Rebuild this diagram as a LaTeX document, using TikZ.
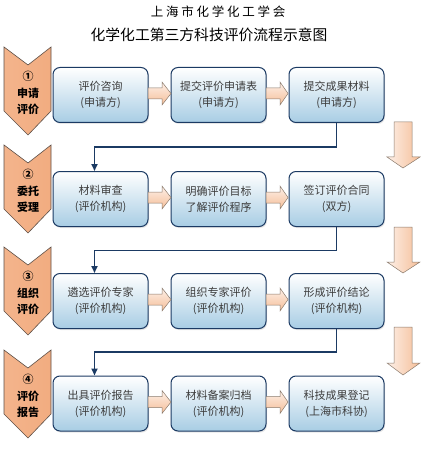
\documentclass[tikz,border=0pt]{standalone}
\usepackage{fontspec}
\setmainfont{Noto Sans CJK SC}
\newfontfamily\titlefont[LetterSpace=22]{Noto Sans CJK SC}
\usetikzlibrary{arrows.meta,shadows}

\newlength{\du}
\setlength{\du}{1pt}

\definecolor{boxline}{HTML}{1B3A63}
\definecolor{boxbot}{HTML}{A8CDE4}
\definecolor{chevline}{HTML}{5E5048}
\definecolor{chevL}{HTML}{F3B48C}
\definecolor{chevM}{HTML}{FCE6D6}
\definecolor{chevR}{HTML}{F2AC80}
\definecolor{arrline}{HTML}{8A7A6C}
\definecolor{arrL}{HTML}{FDF0E8}
\definecolor{arrR}{HTML}{F5BE98}
\definecolor{textgray}{HTML}{3C3C3C}

\tikzset{
  stagebox/.style={draw=boxline, line width=1\du, rounded corners=7\du,
    top color=white, bottom color=boxbot, minimum width=95\du,
    minimum height=55\du, inner sep=0pt, align=center, text=textgray,
    font=\fontsize{11}{16}\selectfont,
    drop shadow={opacity=0.2, shadow xshift=1pt, shadow yshift=-1.5pt}},
  chevron/.style={draw=chevline, line width=0.6\du, left color=chevL, middle color=chevM, right color=chevR},
  chevtext/.style={align=center, text=black, font=\bfseries\fontsize{11}{16.5}\selectfont},
  link/.style={draw=boxline, line width=1.6pt, -{Triangle[width=6pt,length=7pt]}},
  harrow/.style={draw=arrline, line width=0.5\du, top color=arrL, bottom color=arrR},
  varrow/.style={draw=arrline, line width=0.5\du, left color=arrL, right color=arrR},
}

\begin{document}
\begin{tikzpicture}
\pgftransformxscale{1.000000}
\pgftransformyscale{-1.000000}
\useasboundingbox (0\du,0\du) rectangle (439\du,465\du);
% titles
\node[font=\titlefont\fontsize{12.5}{14}\selectfont] (title) at (218\du,12\du){上海市化学化工学会};
\node[font=\fontsize{14.8}{16}\selectfont] (subtitle) at (209\du,35\du){化学化工第三方科技评价流程示意图};
% stage chevrons
\draw[chevron] (4\du,47\du)--(28\du,65\du)--(51\du,47\du)--(51\du,111\du)--(28\du,135\du)--(4\du,111\du)--cycle;
\node[chevtext] (stage1) at (28\du,93\du){①\\申请\\评价};
\draw[chevron] (4\du,145\du)--(28\du,163\du)--(51\du,145\du)--(51\du,209\du)--(28\du,233\du)--(4\du,209\du)--cycle;
\node[chevtext] (stage2) at (28\du,191\du){②\\委托\\受理};
\draw[chevron] (4\du,247\du)--(28\du,265\du)--(51\du,247\du)--(51\du,311\du)--(28\du,335\du)--(4\du,311\du)--cycle;
\node[chevtext] (stage3) at (28\du,293\du){③\\组织\\评价};
\draw[chevron] (4\du,350\du)--(28\du,368\du)--(51\du,350\du)--(51\du,414\du)--(28\du,438\du)--(4\du,414\du)--cycle;
\node[chevtext] (stage4) at (28\du,396\du){④\\评价\\报告};
% row 1
\node[stagebox] (s1a) at (100.5\du,95\du){评价咨询\\(申请方)};
\node[stagebox] (s1b) at (218.5\du,95\du){提交评价申请表\\(申请方)};
\node[stagebox] (s1c) at (336.5\du,95\du){提交成果材料\\(申请方)};
\draw[harrow] (148\du,88\du)--(162\du,88\du)--(162\du,82\du)--(171\du,93.5\du)--(162\du,105\du)--(162\du,99\du)--(148\du,99\du)--cycle;
\draw[harrow] (266\du,88\du)--(280\du,88\du)--(280\du,82\du)--(288\du,93.5\du)--(280\du,105\du)--(280\du,99\du)--(266\du,99\du)--cycle;
% row 2
\node[stagebox] (s2a) at (100.5\du,199\du){材料审查\\(评价机构)};
\node[stagebox] (s2b) at (218.5\du,199\du){明确评价目标\\了解评价程序};
\node[stagebox] (s2c) at (336.5\du,199\du){签订评价合同\\(双方)};
\draw[harrow] (148\du,192\du)--(162\du,192\du)--(162\du,186\du)--(171\du,197.5\du)--(162\du,209\du)--(162\du,203\du)--(148\du,203\du)--cycle;
\draw[harrow] (266\du,192\du)--(280\du,192\du)--(280\du,186\du)--(288\du,197.5\du)--(280\du,209\du)--(280\du,203\du)--(266\du,203\du)--cycle;
% row 3
\node[stagebox] (s3a) at (100.5\du,301\du){遴选评价专家\\(评价机构)};
\node[stagebox] (s3b) at (218.5\du,301\du){组织专家评价\\(评价机构)};
\node[stagebox] (s3c) at (336.5\du,301\du){形成评价结论\\(评价机构)};
\draw[harrow] (148\du,294\du)--(162\du,294\du)--(162\du,288\du)--(171\du,299.5\du)--(162\du,311\du)--(162\du,305\du)--(148\du,305\du)--cycle;
\draw[harrow] (266\du,294\du)--(280\du,294\du)--(280\du,288\du)--(288\du,299.5\du)--(280\du,311\du)--(280\du,305\du)--(266\du,305\du)--cycle;
% row 4
\node[stagebox] (s4a) at (100.5\du,403.5\du){出具评价报告\\(评价机构)};
\node[stagebox] (s4b) at (218.5\du,403.5\du){材料备案归档\\(评价机构)};
\node[stagebox] (s4c) at (336.5\du,403.5\du){科技成果登记\\(上海市科协)};
\draw[harrow] (148\du,396.5\du)--(162\du,396.5\du)--(162\du,390.5\du)--(171\du,402\du)--(162\du,413.5\du)--(162\du,407.5\du)--(148\du,407.5\du)--cycle;
\draw[harrow] (266\du,396.5\du)--(280\du,396.5\du)--(280\du,390.5\du)--(288\du,402\du)--(280\du,413.5\du)--(280\du,407.5\du)--(266\du,407.5\du)--cycle;
% down block arrows at the right
\draw[varrow] (394\du,122\du)--(412\du,122\du)--(412\du,157\du)--(420\du,157\du)--(403\du,168\du)--(387\du,157\du)--(394\du,157\du)--cycle;
\draw[varrow] (394\du,227\du)--(412\du,227\du)--(412\du,262\du)--(420\du,262\du)--(403\du,273\du)--(387\du,262\du)--(394\du,262\du)--cycle;
\draw[varrow] (394\du,327\du)--(412\du,327\du)--(412\du,363\du)--(420\du,363\du)--(403\du,375\du)--(387\du,363\du)--(394\du,363\du)--cycle;
% links between rows
\draw[link] (s1c.south) -- ++(0pt,24pt) -| ([xshift=-6pt]s2a.north);
\draw[link] (s2c.south) -- ++(0pt,23.5pt) -| ([xshift=-6pt]s3a.north);
\draw[link] (s3c.south) -- ++(0pt,23pt) -| ([xshift=-6pt]s4a.north);
\end{tikzpicture}
\end{document}
